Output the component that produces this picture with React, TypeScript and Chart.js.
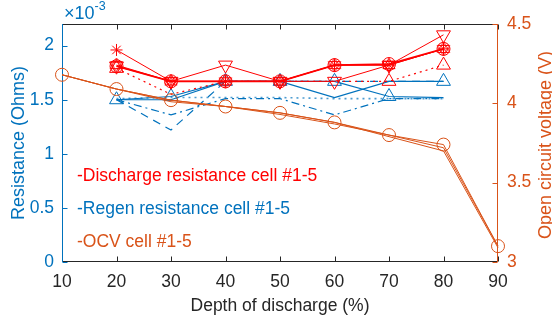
import React, { useEffect, useRef } from 'react';
import { Chart, registerables } from 'chart.js';

Chart.register(...registerables);

// Depth of discharge (%)
const DOD = [20, 30, 40, 50, 60, 70, 80];
const OCV_DOD = [10, 20, 30, 40, 50, 60, 70, 80, 90];
const X_TICKS = [10, 20, 30, 40, 50, 60, 70, 80, 90];
const LEFT_TICKS = [0, 0.5, 1, 1.5, 2];
const RIGHT_TICKS = [3, 3.5, 4, 4.5];

// Discharge resistance, cells #1-5 (x10^-3 Ohms)
const dis1 = [1.96, 1.67, 1.67, 1.67, 1.82, 1.82, 1.97];
const dis2 = [1.81, 1.67, 1.67, 1.67, 1.82, 1.83, 1.97];
const dis3 = [1.81, 1.67, 1.82, 1.67, 1.67, 1.82, 2.1];
const dis4 = [1.79, 1.55, 1.67, 1.67, 1.67, 1.67, 1.82];
const dis5 = [1.82, 1.67, 1.67, 1.67, 1.82, 1.82, 1.97];

// Regen resistance, cells #1-5 (x10^-3 Ohms)
const reg1 = [1.5, 1.53, 1.67, 1.67, 1.67, 1.53, 1.52];
const reg2 = [1.5, 1.5, 1.67, 1.67, 1.52, 1.67, 1.67];
const reg3 = [1.51, 1.52, 1.52, 1.52, 1.51, 1.51, 1.51];
const reg4 = [1.5, 1.36, 1.51, 1.51, 1.36, 1.51, 1.51];
const reg5 = [1.5, 1.22, 1.67, 1.67, 1.67, 1.67, 1.67];

// Open circuit voltage, cells #1-5 (V)
const ocv1 = [4.18, 4.09, 4.02, 3.98, 3.94, 3.88, 3.8, 3.74, 3.1];
const ocv2 = [4.18, 4.09, 4.02, 3.98, 3.94, 3.88, 3.79, 3.7, 3.09];
const ocv3 = [4.18, 4.09, 4.01, 3.98, 3.93, 3.87, 3.8, 3.72, 3.1];

const RED = '#FF0000';
const BLUE = '#0072BD';
const ORANGE = '#D95319';
const DARK = '#262626';
const FONT = '"Liberation Sans", Arial, Helvetica, sans-serif';

const pts = (xs: number[], ys: number[]) => xs.map((x, i) => ({ x, y: ys[i] }));

function makeHexagram(color: string, r: number) {
  const c = document.createElement('canvas');
  const s = Math.ceil(r * 2 + 2);
  c.width = s;
  c.height = s;
  const g = c.getContext('2d')!;
  g.strokeStyle = color;
  g.lineWidth = 1;
  for (const off of [0, Math.PI]) {
    g.beginPath();
    for (let k = 0; k < 3; k++) {
      const ang = off - Math.PI / 2 + (k * 2 * Math.PI) / 3;
      const px = s / 2 + r * Math.cos(ang);
      const py = s / 2 + r * Math.sin(ang);
      if (k === 0) g.moveTo(px, py);
      else g.lineTo(px, py);
    }
    g.closePath();
    g.stroke();
  }
  return c;
}

const decor = {
  id: 'decor',
  beforeDatasetsDraw(chart: any) {
    const { ctx, chartArea: a, scales } = chart;
    const L = Math.round(a.left) + 0.5;
    const R = Math.round(a.right) - 0.5;
    const T = Math.round(a.top) + 0.5;
    const B = Math.round(a.bottom) - 0.5;
    ctx.save();
    ctx.lineWidth = 1;
    ctx.strokeStyle = DARK;
    ctx.beginPath();
    ctx.moveTo(L, T);
    ctx.lineTo(R, T);
    ctx.moveTo(L, B);
    ctx.lineTo(R, B);
    for (const v of X_TICKS) {
      const x = Math.round(scales.x.getPixelForValue(v)) + 0.5;
      ctx.moveTo(x, T);
      ctx.lineTo(x, T + 5);
      ctx.moveTo(x, B);
      ctx.lineTo(x, B - 5);
    }
    ctx.stroke();
    ctx.strokeStyle = BLUE;
    ctx.beginPath();
    ctx.moveTo(L, T - 0.5);
    ctx.lineTo(L, B + 0.5);
    for (const v of LEFT_TICKS) {
      const y = Math.round(scales.y.getPixelForValue(v)) + 0.5;
      ctx.moveTo(L, y);
      ctx.lineTo(L + 5, y);
    }
    ctx.stroke();
    ctx.strokeStyle = ORANGE;
    ctx.beginPath();
    ctx.moveTo(R, T - 0.5);
    ctx.lineTo(R, B + 0.5);
    for (const v of RIGHT_TICKS) {
      const y = Math.round(scales.y2.getPixelForValue(v)) + 0.5;
      ctx.moveTo(R, y);
      ctx.lineTo(R - 5, y);
    }
    ctx.stroke();
    ctx.restore();
  },
  afterDraw(chart: any) {
    const { ctx, chartArea: a } = chart;
    ctx.save();
    ctx.textBaseline = 'alphabetic';
    // x axis title
    ctx.fillStyle = DARK;
    ctx.font = `17.5px ${FONT}`;
    ctx.textAlign = 'center';
    ctx.fillText('Depth of discharge (%)', (a.left + a.right) / 2, 311);
    // left title
    ctx.font = `18px ${FONT}`;
    ctx.save();
    ctx.translate(23.5, 143);
    ctx.rotate(-Math.PI / 2);
    ctx.fillStyle = BLUE;
    ctx.fillText('Resistance (Ohms)', 0, 0);
    ctx.restore();
    // right title
    ctx.save();
    ctx.translate(551, 145);
    ctx.rotate(-Math.PI / 2);
    ctx.fillStyle = ORANGE;
    ctx.fillText('Open circuit voltage (V)', 0, 0);
    ctx.restore();
    // exponent
    ctx.textAlign = 'left';
    ctx.fillStyle = BLUE;
    ctx.font = `18px ${FONT}`;
    ctx.fillText('\u00D710', 64, 19);
    const w = ctx.measureText('\u00D710').width;
    ctx.font = `12.5px ${FONT}`;
    ctx.fillText('-3', 64 + w, 10);
    // text legend
    ctx.font = `17.5px ${FONT}`;
    ctx.fillStyle = RED;
    ctx.fillText('-Discharge resistance cell #1-5', 77, 181);
    ctx.fillStyle = BLUE;
    ctx.fillText('-Regen resistance cell #1-5', 77, 214);
    ctx.fillStyle = ORANGE;
    ctx.fillText('-OCV cell #1-5', 77, 247);
    ctx.restore();
  },
};

export default function App() {
  const ref = useRef<HTMLCanvasElement | null>(null);

  useEffect(() => {
    if (!ref.current) return;
    const hex = makeHexagram(RED, 7);
    const base = {
      fill: false,
      tension: 0,
      clip: false,
      pointBackgroundColor: 'rgba(0,0,0,0)',
      pointBorderWidth: 1,
    };
    const ocvDs = (data: number[], marker: boolean) => ({
      ...base,
      data: pts(OCV_DOD, data),
      yAxisID: 'y2',
      borderColor: ORANGE,
      pointBorderColor: ORANGE,
      borderWidth: 1,
      pointStyle: 'circle',
      pointRadius: marker ? 6.5 : 0,
    });
    const datasets: any[] = [
      ocvDs(ocv1, true),
      ocvDs(ocv2, false),
      ocvDs(ocv3, false),
      {
        ...base, data: pts(DOD, dis1), yAxisID: 'y', borderColor: RED, pointBorderColor: RED,
        borderWidth: 1, pointStyle: 'star', pointRadius: 6,
      },
      {
        ...base, data: pts(DOD, dis2), yAxisID: 'y', borderColor: RED, pointBorderColor: RED,
        borderWidth: 1.6, pointStyle: 'circle', pointRadius: 6.5,
      },
      {
        ...base, data: pts(DOD, dis3), yAxisID: 'y', borderColor: RED, pointBorderColor: RED,
        borderWidth: 1, pointStyle: 'triangle', pointRotation: 180, pointRadius: 8,
      },
      {
        ...base, data: pts(DOD, dis4), yAxisID: 'y', borderColor: RED, pointBorderColor: RED,
        borderWidth: 1.2, borderDash: [2, 4], pointStyle: 'triangle',
        pointRadius: [8, 0, 0, 0, 0, 8, 8],
      },
      {
        ...base, data: pts(DOD, dis5), yAxisID: 'y', borderColor: RED, pointBorderColor: RED,
        borderWidth: 1, pointStyle: hex, pointRadius: 6,
      },
      {
        ...base, data: pts(DOD, reg1), yAxisID: 'y', borderColor: BLUE, pointBorderColor: BLUE,
        borderWidth: 1.2, pointStyle: 'triangle', pointRadius: [8, 8, 8, 8, 8, 8, 0],
      },
      {
        ...base, data: pts(DOD, reg2), yAxisID: 'y', borderColor: BLUE, pointBorderColor: BLUE,
        borderWidth: 1.2, pointStyle: 'triangle', pointRadius: [0, 0, 0, 0, 0, 0, 8],
      },
      {
        ...base, data: pts(DOD, reg3), yAxisID: 'y', borderColor: 'rgba(0,114,189,0.7)',
        borderWidth: 1.6, borderDash: [2, 4], pointRadius: 0,
      },
      {
        ...base, data: pts(DOD, reg4), yAxisID: 'y', borderColor: BLUE,
        borderWidth: 1.2, borderDash: [8, 4, 2, 4], pointRadius: 0,
      },
      {
        ...base, data: pts(DOD, reg5), yAxisID: 'y', borderColor: BLUE,
        borderWidth: 1.2, borderDash: [8, 6], pointRadius: 0,
      },
    ];

    const chart = new Chart(ref.current, {
      type: 'line',
      data: { datasets },
      options: {
        animation: false,
        responsive: false,
        devicePixelRatio: 1,
        layout: { padding: { top: 24, left: 0, right: 0, bottom: 0 } },
        plugins: { legend: { display: false }, tooltip: { enabled: false } },
        scales: {
          x: {
            type: 'linear',
            min: 10,
            max: 90,
            grid: { display: false, drawTicks: false },
            border: { display: false },
            afterBuildTicks: (s: any) => { s.ticks = X_TICKS.map((v) => ({ value: v })); },
            afterFit: (s: any) => { s.height = 64; },
            ticks: {
              color: DARK,
              padding: 10,
              maxRotation: 0,
              font: { family: FONT, size: 17.5 },
              callback: (v: any) => String(v),
            },
          },
          y: {
            type: 'linear',
            position: 'left',
            min: 0,
            max: 2.2,
            grid: { display: false, drawTicks: false },
            border: { display: false },
            afterBuildTicks: (s: any) => { s.ticks = LEFT_TICKS.map((v) => ({ value: v })); },
            afterFit: (s: any) => { s.width = 62; },
            ticks: {
              color: BLUE,
              padding: 8,
              font: { family: FONT, size: 17.5 },
              callback: (v: any) => String(v),
            },
          },
          y2: {
            type: 'linear',
            position: 'right',
            min: 3,
            max: 4.5,
            grid: { display: false, drawTicks: false },
            border: { display: false },
            afterBuildTicks: (s: any) => { s.ticks = RIGHT_TICKS.map((v) => ({ value: v })); },
            afterFit: (s: any) => { s.width = 54; },
            ticks: {
              color: ORANGE,
              padding: 9,
              font: { family: FONT, size: 17.5 },
              callback: (v: any) => String(v),
            },
          },
        },
      } as any,
      plugins: [decor],
    });
    return () => chart.destroy();
  }, []);

  return (
    <div style={{ position: 'fixed', left: 0, top: 0, width: 552, height: 326, background: '#fff' }}>
      <canvas ref={ref} width={552} height={326} style={{ width: 552, height: 326 }} />
    </div>
  );
}
